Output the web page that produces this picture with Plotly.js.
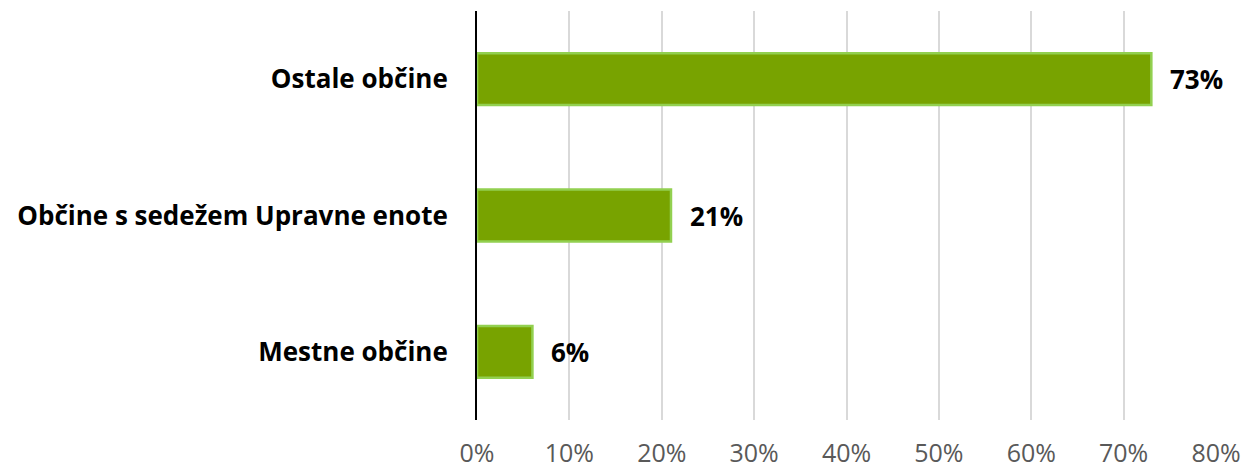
<!DOCTYPE html>
<html>
<head>
<meta charset="utf-8">
<script src="https://cdn.plot.ly/plotly-3.0.1.min.js"></script>
<style>html,body{margin:0;padding:0;background:#fff;}#chart{width:1248px;height:468px;}</style>
</head>
<body>
<div id="chart"></div>
<script>
const categories = ["Mestne občine", "Občine s sedežem Upravne enote", "Ostale občine"];
const shares = [0.06, 0.21, 0.73];
const tickValues = [0, 0.1, 0.2, 0.3, 0.4, 0.5, 0.6, 0.7, 0.8];
const tickLabels = ["0%", "10%", "20%", "30%", "40%", "50%", "60%", "70%", "80%"];

const fam = "'Open Sans', Lato, sans-serif";

const trace = {
  type: "bar",
  orientation: "h",
  y: categories,
  x: shares,
  marker: {color: "#78A300", line: {color: "#92D050", width: 2.5}},
  hoverinfo: "none"
};

const annotations = categories.map((c, i) => ({
  x: shares[i], y: c, xref: "x", yref: "y",
  text: "<b>" + Math.round(shares[i] * 100) + "%</b>",
  showarrow: false, xanchor: "left", xshift: 17,
  font: {family: fam, size: 26, color: "#000"}
}));

const layout = {
  width: 1248, height: 468,
  margin: {l: 477, r: 32, t: 11, b: 48},
  paper_bgcolor: "#fff", plot_bgcolor: "#fff",
  bargap: 0.62,
  showlegend: false,
  xaxis: {
    range: [0, 0.8],
    tickvals: tickValues, ticktext: tickLabels,
    showgrid: true, gridcolor: "#d9d9d9", gridwidth: 2,
    zeroline: false, showline: false,
    ticks: "outside", ticklen: 11, tickcolor: "rgba(0,0,0,0)",
    tickfont: {family: fam, size: 25, color: "#595959"},
    fixedrange: true
  },
  yaxis: {
    type: "category",
    showgrid: false, zeroline: false,
    showline: true, linecolor: "#000", linewidth: 2,
    ticks: "outside", ticklen: 22, tickcolor: "rgba(0,0,0,0)",
    tickfont: {family: fam, size: 26, color: "#000", weight: "bold"},
    fixedrange: true
  },
  annotations: annotations
};

Plotly.newPlot("chart", [trace], layout, {displayModeBar: false, staticPlot: true});
</script>
</body>
</html>
